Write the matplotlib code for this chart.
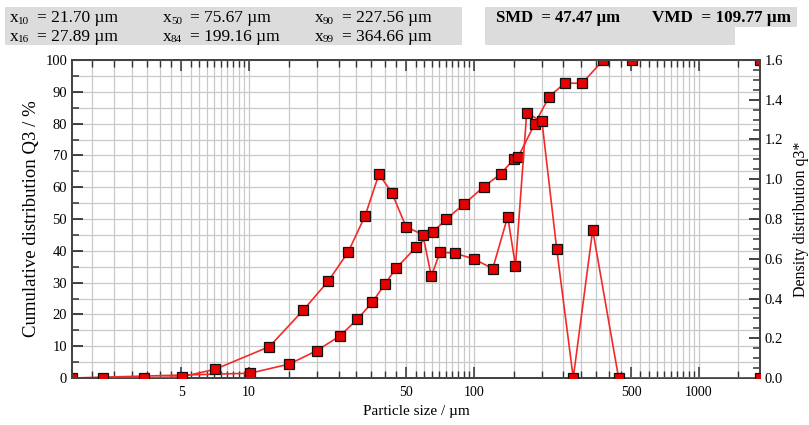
import numpy as np
import matplotlib
matplotlib.use("Agg")
import matplotlib.pyplot as plt
from matplotlib.patches import Rectangle, Polygon
from matplotlib.ticker import FixedLocator, NullFormatter, FixedFormatter, MultipleLocator

# ---------------- data ----------------
cum_size = [1.63, 10.1, 15.1, 20.0, 25.4, 30.3, 35.3, 40.2, 45.0, 55.2, 65.9, 75.1,
            90.3, 110.8, 131.5, 151.1, 157.4, 186.1, 216.1, 253.0, 302.9, 375.5, 505.3, 1870]
cum_Q3 = [0.0, 1.5, 4.4, 8.6, 13.3, 18.5, 23.8, 29.6, 34.5, 41.1, 46.0, 49.9,
          54.7, 60.2, 64.2, 69.0, 69.6, 79.9, 88.5, 92.7, 92.7, 100.0, 100.0, 100.0]

dens_size = [2.25, 3.39, 5.02, 7.06, 12.31, 17.43, 22.5, 27.6, 32.8, 37.8, 43.1, 49.9,
             59.2, 64.6, 70.6, 82.6, 100.0, 121.1, 141.2, 152.9, 171.5, 200.5, 233.1,
             276.3, 337.1, 439.7, 1870]
dens_q3 = [0.0, 0.0, 0.006, 0.044, 0.158, 0.342, 0.488, 0.635, 0.817, 1.026, 0.932, 0.760,
           0.722, 0.511, 0.634, 0.627, 0.599, 0.550, 0.812, 0.564, 1.332, 1.292, 0.651,
           0.0, 0.745, 0.0, 0.0]

x_tick_vals = [5, 10, 50, 100, 500, 1000]
x_tick_labels = ["5", "10", "50", "100", "500", "1000"]

header_left = [("x", "10", "= 21.70 µm"), ("x", "50", "= 75.67 µm"), ("x", "90", "= 227.56 µm"),
               ("x", "16", "= 27.89 µm"), ("x", "84", "= 199.16 µm"), ("x", "99", "= 364.66 µm")]
header_right = ["SMD  = 47.47 µm", "VMD  = 109.77 µm"]

# ---------------- style ----------------
plt.rcParams['font.family'] = ['Liberation Serif', 'DejaVu Serif']
W, H = 809, 425
fig = plt.figure(figsize=(W / 100, H / 100), dpi=100)

def fx(px):
    return px / W

def fy(py):
    return 1 - py / H

ax = fig.add_axes([fx(72), fy(378), fx(760) - fx(72), fy(60) - fy(378)])
ax2 = ax.twinx()

red = '#f42a2a'
ax.set_xscale('log')
ax.set_xlim(1.63, 1870)
ax.set_ylim(0, 100)
ax2.set_ylim(0, 1.6)

minor_x = list(np.arange(2, 10, 0.5)) + list(np.arange(15, 100, 5)) + \
          list(np.arange(150, 1000, 50)) + [1500]
ax.xaxis.set_major_locator(FixedLocator(x_tick_vals))
ax.xaxis.set_major_formatter(FixedFormatter(x_tick_labels))
ax.xaxis.set_minor_locator(FixedLocator(minor_x))
ax.xaxis.set_minor_formatter(NullFormatter())
ax.yaxis.set_major_locator(MultipleLocator(10))
ax.yaxis.set_minor_locator(MultipleLocator(5))
ax2.yaxis.set_major_locator(MultipleLocator(0.2))
ax2.yaxis.set_minor_locator(MultipleLocator(0.05))
ax2.yaxis.set_major_formatter(matplotlib.ticker.FormatStrFormatter('%.1f'))

ax.grid(which='both', axis='both', color='#c9c9c9', lw=0.9)
ax.set_axisbelow(True)

ax.tick_params(axis='x', which='major', direction='in', length=8, width=1.1, top=True,
               labelsize=10, pad=6, color='#333333')
ax.tick_params(axis='x', which='minor', direction='in', length=5, width=1.0, top=True,
               color='#333333')
ax.tick_params(axis='y', which='major', direction='in', length=8, width=1.3, labelsize=10.5,
               color='#333333')
ax.tick_params(axis='y', which='minor', direction='in', length=5, width=1.1, color='#333333')
ax2.tick_params(axis='y', which='major', direction='in', length=8, width=1.3, labelsize=10.5,
                color='#333333')
ax2.tick_params(axis='y', which='minor', direction='in', length=5, width=1.1, color='#333333')

for a in (ax, ax2):
    for s in a.spines.values():
        s.set_color('#444444')
        s.set_linewidth(1.4)

mk = dict(marker='s', markersize=6.8, markerfacecolor='#e60000', markeredgecolor='#111111',
          markeredgewidth=0.9)
ax.plot(cum_size, cum_Q3, color=red, lw=1.2, zorder=3, **mk)
ax2.plot(dens_size, dens_q3, color=red, lw=1.2, zorder=3, **mk)

ax.set_xlabel('Particle size / µm', fontsize=11, labelpad=4)
ax.set_ylabel('Cumulative distribution Q3 / %', fontsize=13.5, labelpad=4)
ax2.set_ylabel('Density distribution q3*', fontsize=11.5, labelpad=7)

# ---------------- header ----------------
grey = '#dcdcdc'
fig.patches.append(Rectangle((fx(5), fy(45)), fx(462) - fx(5), fy(7) - fy(45),
                             transform=fig.transFigure, facecolor=grey, edgecolor='none'))
poly = [(fx(485), fy(7)), (fx(797), fy(7)), (fx(797), fy(27)), (fx(735), fy(27)),
        (fx(735), fy(45)), (fx(485), fy(45))]
fig.patches.append(Polygon(poly, closed=True, transform=fig.transFigure,
                           facecolor=grey, edgecolor='none'))

cols = [10, 163, 315]
rows = [18, 37]
for i, (xs, sub, rest) in enumerate(header_left):
    c = cols[i % 3]
    r = rows[i // 3]
    fig.text(fx(c), fy(r), xs, fontsize=12.5, va='center', ha='left')
    fig.text(fx(c + 8), fy(r + 3), sub, fontsize=8, va='center', ha='left')
    fig.text(fx(c + 27), fy(r), rest, fontsize=12.5, va='center', ha='left')

fig.text(fx(496), fy(18), header_right[0], fontsize=12, fontweight='bold', va='center', ha='left')
fig.text(fx(652), fy(18), header_right[1], fontsize=12.3, fontweight='bold', va='center', ha='left')

fig.savefig('out.png', dpi=100)
